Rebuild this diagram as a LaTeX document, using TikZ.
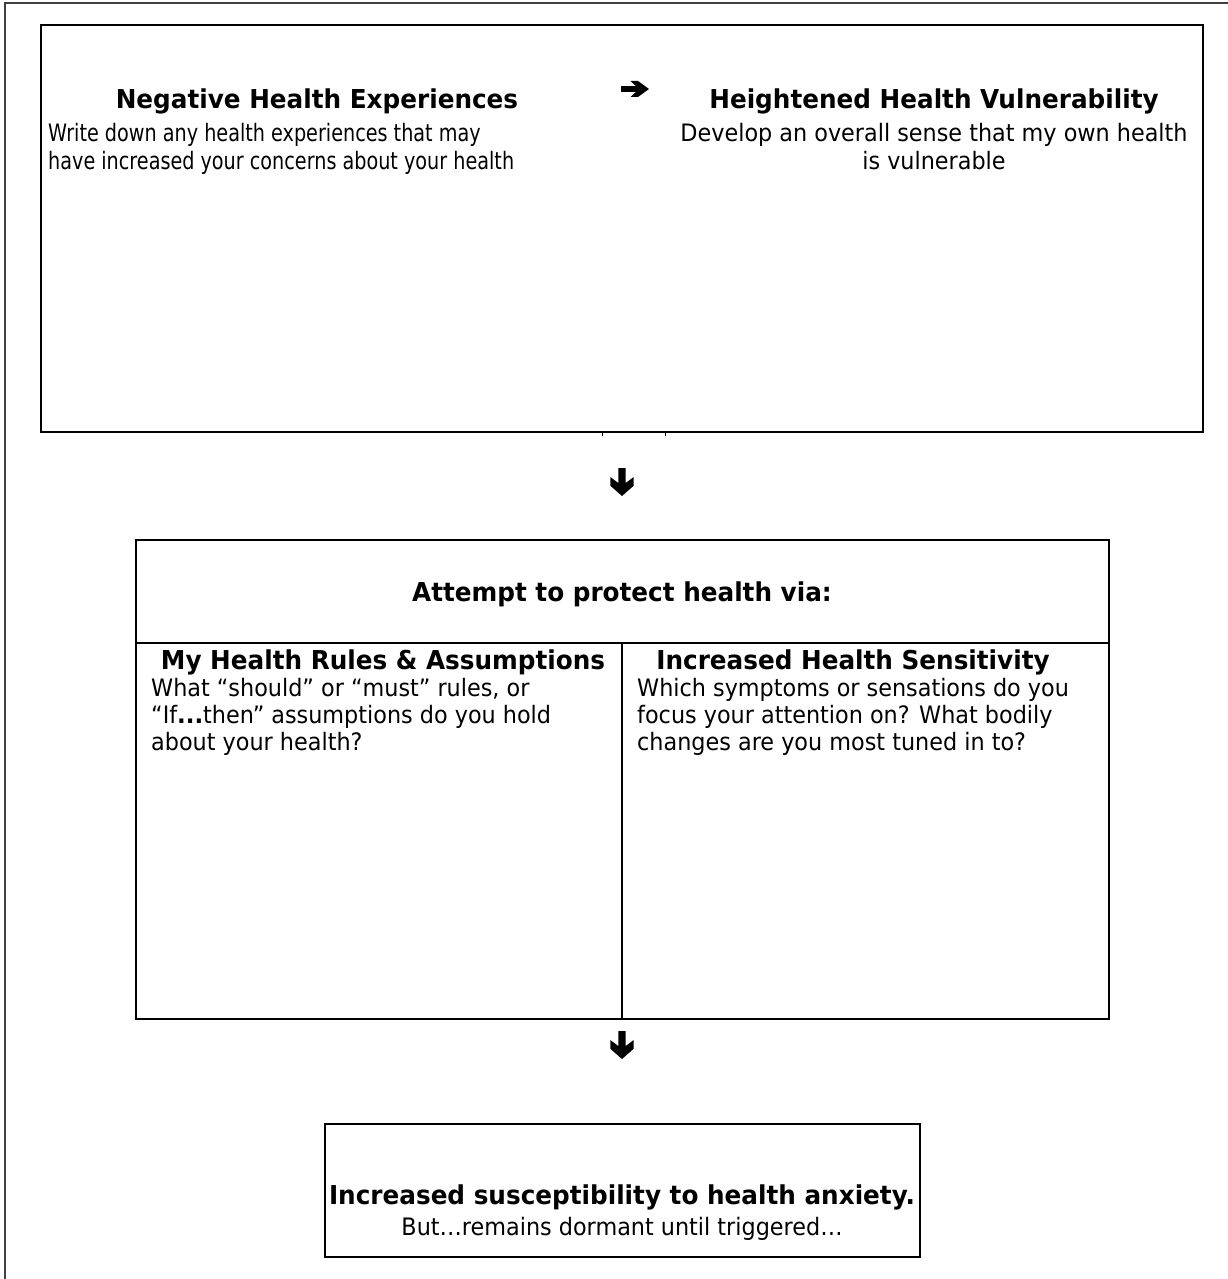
\documentclass[tikz,border=0pt]{standalone}
\usepackage{fontspec}
\setmainfont{DejaVu Sans}[FakeStretch=0.93, BoldFeatures={FakeStretch=0.95}]
\newfontfamily\tightfont{DejaVu Sans}[FakeStretch=0.8]
\usetikzlibrary{positioning}

\begin{document}
\begin{tikzpicture}[x=1pt,y=-1pt]
\tikzstyle{every node}=[font=\fontsize{24}{27}\selectfont, inner sep=0pt]
\tikzstyle{head}=[font=\fontsize{26}{27}\selectfont\bfseries, anchor=base]
\tikzstyle{body}=[anchor=base west, align=left]
\tikzstyle{frame}=[draw, line width=1.5pt]
\useasboundingbox (0,0) rectangle (1228,1279);
% outer frame, open on the right and the bottom
\draw [line width=1.5pt, black!75] (1228,3) -- (5,3) -- (5,1279);
% first box
\draw [frame] (41,25) rectangle (1203,432);
\draw [line width=2.5pt] (41,25) -- (1203,25);
\draw (602,432) -- (602,436);
\draw (665,432) -- (665,436);
\node [head] (neghead) at (317,109) {Negative Health Experiences};
\node [body, font=\tightfont\fontsize{24}{28}\selectfont] (negtext) at (48,169) {Write down any health experiences that may\\have increased your concerns about your health};
\coordinate (rarrow) at (635,89);
\fill [shift={(rarrow)}] (-14,-2.8) -- (1,-2.8) -- (-4.5,-8) -- (3,-8) -- (14,0) -- (3,8) -- (-4.5,8) -- (1,2.8) -- (-14,2.8) -- cycle;
\node [head] (vulhead) at (934,109) {Heightened Health Vulnerability};
\node [anchor=base, align=center, font=\fontsize{24}{28}\selectfont] (vultext) at (934,169) {Develop an overall sense that my own health\\is vulnerable};
\coordinate (darrowa) at (622,482);
\fill [shift={(darrowa)}] (-3.7,-14) -- (3.7,-14) -- (3.7,1) -- (11.7,-5) -- (11.7,3.7) -- (0,14) -- (-11.7,3.7) -- (-11.7,-5) -- (-3.7,1) -- cycle;
% second box
\draw [frame] (136,540) rectangle (1109,1019);
\draw [frame] (136,643) -- (1109,643);
\draw [frame] (622,643) -- (622,1019);
\node [head] (protect) at (622,601) {Attempt to protect health via:};
\node [head] (ruleshead) at (383,669) {My Health Rules \& Assumptions};
\node [body] (rulestext) at (151,750) {What “should” or “must” rules, or\\“If\textbf{...}then” assumptions do you hold\\about your health?};
\node [head] (senshead) at (853,669) {Increased Health Sensitivity};
\node [body] (senstext) at (637,750) {Which symptoms or sensations do you\\focus your attention on? What bodily\\changes are you most tuned in to?};
\coordinate (darrowb) at (622,1045);
\fill [shift={(darrowb)}] (-3.7,-14) -- (3.7,-14) -- (3.7,1) -- (11.7,-5) -- (11.7,3.7) -- (0,14) -- (-11.7,3.7) -- (-11.7,-5) -- (-3.7,1) -- cycle;
% third box
\draw [frame] (325,1124) rectangle (920,1257);
\node [head] (suschead) at (622,1204) {Increased susceptibility to health anxiety.};
\node [anchor=base] (susctext) at (622,1235) {But…remains dormant until triggered…};
\end{tikzpicture}
\end{document}
